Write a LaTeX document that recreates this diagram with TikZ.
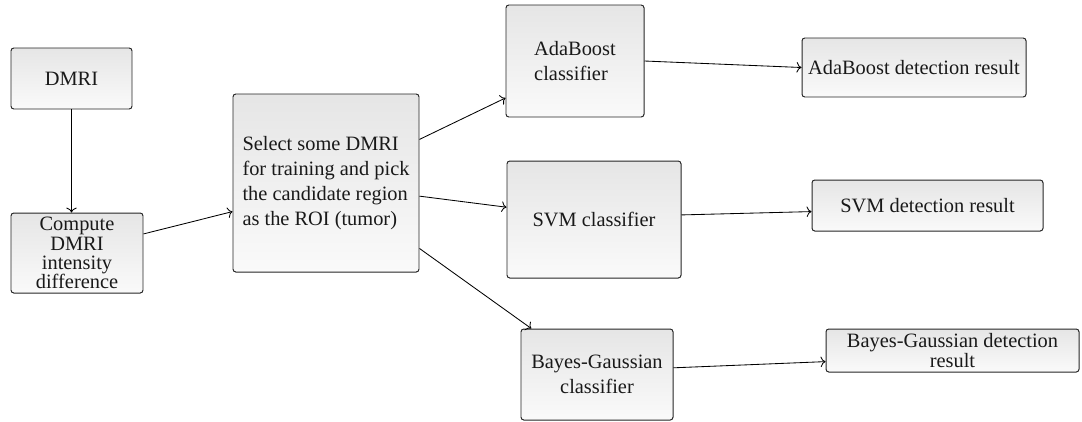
\documentclass[tikz,border=0pt]{standalone}
\usepackage{fontspec}
\setmainfont{Liberation Serif}
\usepackage{tikz}
\usetikzlibrary{arrows.meta}

\tikzset{
  box/.style={draw=black!85, line width=0.7pt, rounded corners=2pt,
    top color=black!10, bottom color=black!2, text=black!90,
    inner sep=2pt, align=center,
    font=\fontsize{14.5}{17.8}\selectfont},
}

\begin{document}
\begin{tikzpicture}[>={To[length=3.5pt,width=7.5pt]}, line width=0.6pt]
\useasboundingbox (0,0) rectangle (27.05,-10.525);

\node[box, minimum width=3.025cm, minimum height=1.525cm] (dmri) at (1.7875,-1.9625) {DMRI};
\node[box, minimum width=3.3cm, minimum height=2cm,
  font=\fontsize{14.5}{13.6}\selectfont] (diff) at (1.925,-6.325)
  {Compute\\DMRI\\intensity\\difference};

\node[box, align=left, minimum width=4.65cm, minimum height=4.45cm] (select) at (8.15,-4.575)
  {Select some DMRI\\for training and pick\\the candidate region\\as the ROI (tumor)};

\node[box, align=left, minimum width=3.45cm, minimum height=2.8cm] (ada) at (14.375,-1.525) {AdaBoost\\classifier};
\node[box, minimum width=4.35cm, minimum height=2.925cm] (svm) at (14.85,-5.4875) {SVM classifier};
\node[box, minimum width=3.8cm, minimum height=2.275cm] (bayes) at (14.925,-9.3625) {Bayes-Gaussian\\classifier};

\node[box, inner sep=1pt, minimum width=5.6cm, minimum height=1.475cm] (adares) at (22.85,-1.6875) {AdaBoost detection result};
\node[box, minimum width=5.775cm, minimum height=1.275cm] (svmres) at (23.1875,-5.1375) {SVM detection result};
\node[box, inner sep=0pt, minimum width=6.325cm, minimum height=1.075cm,
  font=\fontsize{14.5}{14.2}\selectfont] (bayesres) at (23.8125,-8.7625)
  {Bayes-Gaussian detection\\result};

\path [->] (dmri.south) edge (dmri.south |- diff.north)
  (diff.16) edge (select.197)
  (select.25) edge (ada.208) (select.-8) edge (svm.172) (select.-35) edge (bayes.145)
  (ada.east) edge (adares.west) (svm.3) edge (svmres.183) (bayes.5) edge (bayesres.185);
\end{tikzpicture}
\end{document}
